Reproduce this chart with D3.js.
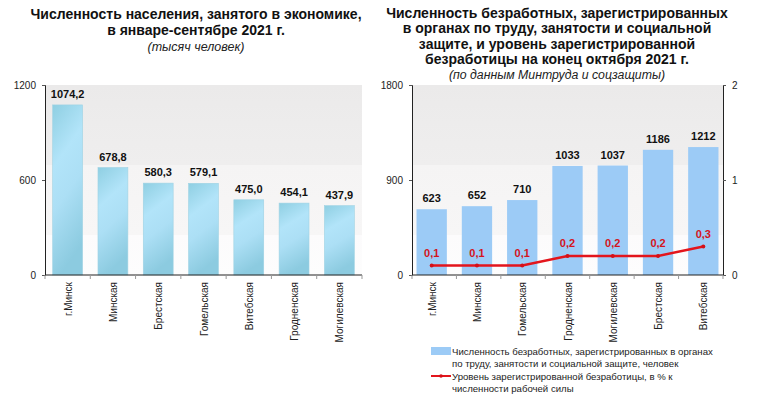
<!DOCTYPE html>
<html><head><meta charset="utf-8">
<script src="https://cdn.jsdelivr.net/npm/d3@7"></script>
<style>body{margin:0;background:#fff}svg{display:block;font-family:"Liberation Sans",Arial,sans-serif}</style>
</head><body>
<svg id="c" width="760" height="403"></svg>
<script>
const leftCategories = ["г.Минск","Минская","Брестская","Гомельская","Витебская","Гродненская","Могилевская"];
const leftValues = [1074.2, 678.8, 580.3, 579.1, 475.0, 454.1, 437.9];
const leftTicks = [0, 600, 1200];

const rightCategories = ["г.Минск","Минская","Гомельская","Гродненская","Могилевская","Брестская","Витебская"];
const rightCounts = [623, 652, 710, 1033, 1037, 1186, 1212];
const rightRates = [0.1, 0.1, 0.1, 0.2, 0.2, 0.2, 0.3];
const rightTicks = [0, 900, 1800];
const rateTicks = [0, 1, 2];

const leftTitle = ["Численность населения, занятого в экономике,", "в январе-сентябре 2021 г."];
const leftSub = "(тысяч человек)";
const rightTitle = ["Численность безработных, зарегистрированных", "в органах по труду, занятости и социальной", "защите, и уровень зарегистрированной", "безработицы на конец октября 2021 г."];
const rightSub = "(по данным Минтруда и соцзащиты)";
const legendBar = ["Численность безработных, зарегистрированных в органах", "по труду, занятости и социальной защите, человек"];
const legendLine = ["Уровень зарегистрированной безработицы, в % к", "численности рабочей силы"];

const svg = d3.select("#c");
const fmt1 = v => d3.format(".1f")(v).replace(".", ",");

const defs = svg.append("defs");
const bg = defs.append("linearGradient").attr("id","bg").attr("x1",0).attr("y1",0).attr("x2",0).attr("y2",1);
[[0,"#ebeaea"],[0.2,"#edecec"],[0.42,"#efeeee"],[0.42,"#f5f4f4"],[0.79,"#f7f6f6"],[0.79,"#fcfbfc"],[1,"#fdfdfd"]]
  .forEach(([o,c]) => bg.append("stop").attr("offset",o).attr("stop-color",c));
const bar = defs.append("linearGradient").attr("id","bar").attr("x1",0).attr("y1",0).attr("x2",0.25).attr("y2",1);
[[0,"#8fcfe2"],[0.35,"#b2e4f9"],[0.6,"#acdff5"],[1,"#8ccbe0"]]
  .forEach(([o,c]) => bar.append("stop").attr("offset",o).attr("stop-color",c));

function title(lines, sub, cx, y0, dy, subY, subSize) {
  const t = svg.append("text").attr("text-anchor","middle").attr("font-weight","bold").attr("font-size",14).attr("fill","#111");
  lines.forEach((l,i) => t.append("tspan").attr("x",cx).attr("y",y0+i*dy).text(l));
  svg.append("text").attr("x",cx).attr("y",subY).attr("text-anchor","middle").attr("font-style","italic").attr("font-size",subSize).attr("fill","#222").text(sub);
}
title(leftTitle, leftSub, 196, 19, 16, 51, 12.5);
title(rightTitle, rightSub, 557, 18, 15.4, 79, 12.3);

function styleAxis(g) {
  g.select(".domain").attr("stroke","#222");
  g.selectAll("text").attr("font-size",10).attr("fill","#222").attr("font-family","'Liberation Sans',Arial,sans-serif");
  g.selectAll("line").attr("stroke","#555");
}

// ---------- Left chart ----------
{
  const x0 = 45, x1 = 362, yT = 85, yB = 275;
  const x = d3.scaleBand().domain(leftCategories).range([x0, x1]).paddingInner(0.34).paddingOuter(0.17);
  const y = d3.scaleLinear().domain([0, 1200]).range([yB, yT]);
  svg.append("rect").attr("x",x0).attr("y",yT).attr("width",x1-x0).attr("height",yB-yT).attr("fill","url(#bg)");
  svg.append("g").selectAll("rect").data(leftValues).join("rect")
    .attr("x",(d,i)=>x(leftCategories[i])).attr("y",d=>y(d)).attr("width",x.bandwidth()).attr("height",d=>yB-y(d))
    .attr("fill","url(#bar)").attr("stroke","#9fd2e3").attr("stroke-width",0.6);
  svg.append("g").selectAll("text").data(leftValues).join("text")
    .attr("x",(d,i)=>x(leftCategories[i])+x.bandwidth()/2).attr("y",d=>y(d)-7)
    .attr("text-anchor","middle").attr("font-weight","bold").attr("font-size",11).attr("fill","#111").text(fmt1);
  const ya = svg.append("g").attr("transform",`translate(${x0},0)`)
    .call(d3.axisLeft(y).tickValues(leftTicks).tickFormat(d3.format("d")).tickSize(3).tickPadding(6));
  styleAxis(ya);
  const xa = svg.append("g").attr("transform",`translate(0,${yB})`);
  xa.append("line").attr("x1",x0).attr("x2",x1).attr("stroke","#222");
  xa.selectAll("line.t").data(d3.range(leftCategories.length+1)).join("line").attr("class","t")
    .attr("x1",i=>x0+(x1-x0)*i/leftCategories.length).attr("x2",i=>x0+(x1-x0)*i/leftCategories.length)
    .attr("y1",0).attr("y2",4).attr("stroke","#999");
  svg.append("g").selectAll("text").data(leftCategories).join("text")
    .attr("transform",d=>`translate(${x(d)+x.bandwidth()/2+4},282) rotate(-90)`)
    .attr("text-anchor","end").attr("font-size",10).attr("fill","#222").text(d=>d);
}

// ---------- Right chart ----------
{
  const x0 = 412, x1 = 723, yT = 85, yB = 275;
  const x = d3.scaleBand().domain(rightCategories).range([x0, x1]).paddingInner(0.33).paddingOuter(0.1);
  const y = d3.scaleLinear().domain([0, 1800]).range([yB, yT]);
  const y2 = d3.scaleLinear().domain([0, 2]).range([yB, yT]);
  svg.append("rect").attr("x",x0).attr("y",yT).attr("width",x1-x0).attr("height",yB-yT).attr("fill","url(#bg)");
  svg.append("g").selectAll("rect").data(rightCounts).join("rect")
    .attr("x",(d,i)=>x(rightCategories[i])).attr("y",d=>y(d)).attr("width",x.bandwidth()).attr("height",d=>yB-y(d))
    .attr("fill","#9ccbf6");
  svg.append("g").selectAll("text").data(rightCounts).join("text")
    .attr("x",(d,i)=>x(rightCategories[i])+x.bandwidth()/2).attr("y",d=>y(d)-7)
    .attr("text-anchor","middle").attr("font-weight","bold").attr("font-size",11).attr("fill","#111").text(d=>d);
  const cx = (d,i)=>x(rightCategories[i])+x.bandwidth()/2;
  svg.append("path").datum(rightRates)
    .attr("d", d3.line().x(cx).y(d=>y2(d)))
    .attr("fill","none").attr("stroke","#e3151c").attr("stroke-width",2.4);
  svg.append("g").selectAll("circle").data(rightRates).join("circle")
    .attr("cx",cx).attr("cy",d=>y2(d)).attr("r",2).attr("fill","#d41018");
  svg.append("g").selectAll("text").data(rightRates).join("text")
    .attr("x",cx).attr("y",d=>y2(d)-9).attr("text-anchor","middle")
    .attr("font-weight","bold").attr("font-size",11).attr("fill","#d4141c").text(fmt1);
  const ya = svg.append("g").attr("transform",`translate(${x0},0)`)
    .call(d3.axisLeft(y).tickValues(rightTicks).tickFormat(d3.format("d")).tickSize(3).tickPadding(6));
  styleAxis(ya);
  const yb = svg.append("g").attr("transform",`translate(${x1},0)`)
    .call(d3.axisRight(y2).tickValues(rateTicks).tickFormat(d3.format("d")).tickSize(3).tickPadding(6));
  styleAxis(yb);
  const xa = svg.append("g").attr("transform",`translate(0,${yB})`);
  xa.append("line").attr("x1",x0).attr("x2",x1).attr("stroke","#222");
  xa.selectAll("line.t").data(d3.range(rightCategories.length+1)).join("line").attr("class","t")
    .attr("x1",i=>x0+(x1-x0)*i/rightCategories.length).attr("x2",i=>x0+(x1-x0)*i/rightCategories.length)
    .attr("y1",0).attr("y2",4).attr("stroke","#999");
  svg.append("g").selectAll("text").data(rightCategories).join("text")
    .attr("transform",d=>`translate(${x(d)+x.bandwidth()/2+4},282) rotate(-90)`)
    .attr("text-anchor","end").attr("font-size",10).attr("fill","#222").text(d=>d);

  // legend
  const lg = svg.append("g");
  lg.append("rect").attr("x",431).attr("y",347).attr("width",20).attr("height",8).attr("fill","#9ccbf6");
  const t1 = lg.append("text").attr("font-size",9.6).attr("fill","#222");
  legendBar.forEach((l,i)=>t1.append("tspan").attr("x",452).attr("y",355+i*12).text(l));
  lg.append("line").attr("x1",431).attr("x2",451).attr("y1",376).attr("y2",376).attr("stroke","#e3151c").attr("stroke-width",2);
  lg.append("circle").attr("cx",441).attr("cy",376).attr("r",1.8).attr("fill","#d41018");
  const t2 = lg.append("text").attr("font-size",9.6).attr("fill","#222");
  legendLine.forEach((l,i)=>t2.append("tspan").attr("x",452).attr("y",380+i*12).text(l));
}
</script>
</body></html>
